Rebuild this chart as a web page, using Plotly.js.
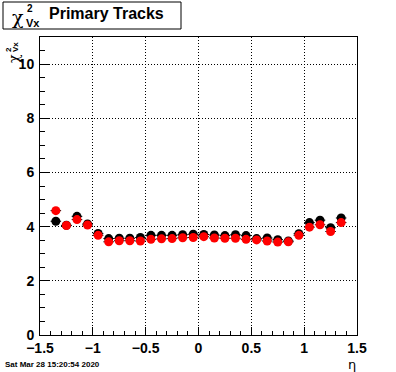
<!DOCTYPE html>
<html>
<head>
<meta charset="utf-8">
<script src="https://cdn.plot.ly/plotly-3.0.1.min.js"></script>
<style>html,body{margin:0;padding:0;background:#fff;}#chart{width:396px;height:372px;}</style>
</head>
<body>
<div id="chart"></div>
<script>
// Data
const eta = [-1.35,-1.25,-1.15,-1.05,-0.95,-0.85,-0.75,-0.65,-0.55,-0.45,-0.35,-0.25,-0.15,-0.05,
             0.05,0.15,0.25,0.35,0.45,0.55,0.65,0.75,0.85,0.95,1.05,1.15,1.25,1.35];
const chi2Black = [4.20,4.05,4.38,4.10,3.75,3.56,3.57,3.57,3.60,3.68,3.68,3.68,3.70,3.72,
                   3.71,3.69,3.67,3.70,3.67,3.56,3.58,3.52,3.47,3.74,4.15,4.24,3.96,4.32];
const chi2Red = [4.59,4.04,4.26,4.06,3.68,3.44,3.48,3.48,3.47,3.53,3.55,3.56,3.59,3.60,
                 3.63,3.58,3.57,3.57,3.53,3.51,3.47,3.43,3.44,3.68,3.98,4.07,3.82,4.15];
const halfBin = eta.map(() => 0.05);
const xTitle = 'η';
const titleMain = 'Primary Tracks';
const dateText = 'Sat Mar 28 15:20:54 2020';

const W = 396, H = 372, L = 40, R = 357, T = 37, B = 335;
const px = x => (x - L) / (R - L);
const py = y => (B - y) / (B - T);
const FONT = 'Liberation Sans, Arial, sans-serif';

function ann(x, y, text, size, opts) {
  return Object.assign({
    xref: 'paper', yref: 'paper', x: px(x), y: py(y), text: text, showarrow: false,
    xanchor: 'center', yanchor: 'middle',
    font: {family: FONT, size: size, color: '#000', weight: 'bold'}
  }, opts || {});
}

const errX = {type: 'data', array: halfBin, visible: true, color: '#000', thickness: 1, width: 0};
const traces = [
  {x: eta, y: chi2Black, type: 'scatter', mode: 'markers',
   marker: {symbol: 'circle', size: 9, color: '#000'}, error_x: errX, hoverinfo: 'skip'},
  {x: eta, y: chi2Red, type: 'scatter', mode: 'markers',
   marker: {symbol: 'circle', size: 9, color: '#ff0000'}, error_x: errX, hoverinfo: 'skip'}
];

const tickFont = {family: FONT, size: 14, color: '#000', weight: 'bold'};
const layout = {
  width: W, height: H,
  margin: {l: L, r: W - R, t: T, b: H - B, pad: 0},
  paper_bgcolor: '#fff', plot_bgcolor: '#fff',
  showlegend: false,
  xaxis: {
    range: [-1.5, 1.5], tick0: -1.5, dtick: 0.5, ticks: 'inside', ticklen: 8, tickwidth: 1, tickcolor: '#000',
    minor: {dtick: 0.1, ticks: 'inside', ticklen: 4, tickcolor: '#000', showgrid: false},
    showgrid: true, gridcolor: '#000', gridwidth: 1, griddash: '1px,2px',
    showline: true, linecolor: '#000', linewidth: 1, mirror: true, zeroline: false,
    tickfont: tickFont, ticklabelstandoff: 0
  },
  yaxis: {
    range: [0, 11], tick0: 0, dtick: 2, ticks: 'inside', ticklen: 9, tickwidth: 1, tickcolor: '#000',
    minor: {dtick: 0.5, ticks: 'inside', ticklen: 5, tickcolor: '#000', showgrid: false},
    showgrid: true, gridcolor: '#000', gridwidth: 1, griddash: '1px,2px',
    showline: true, linecolor: '#000', linewidth: 1, mirror: true, zeroline: false,
    tickfont: tickFont, ticklabelstandoff: 2
  },
  shapes: [
    {type: 'rect', xref: 'paper', yref: 'paper', x0: px(3), x1: px(181), y0: py(29), y1: py(2),
     line: {color: '#000', width: 1}, fillcolor: '#fff', layer: 'above'}
  ],
  annotations: [
    ann(18, 17, 'χ', 19, {font: {family: 'DejaVu Serif, serif', size: 19, color: '#000'}}),
    ann(30, 9, '2', 10, {}),
    ann(33, 23, 'Vx', 11, {}),
    ann(106, 14, titleMain, 16, {}),
    ann(14, 59, 'χ', 14, {textangle: -90, font: {family: 'DejaVu Serif, serif', size: 14, color: '#000'}}),
    ann(8, 50, '2', 8, {textangle: -90}),
    ann(16, 47, 'Vx', 8, {textangle: -90}),
    ann(352, 364, xTitle, 13, {font: {family: 'DejaVu Sans, sans-serif', size: 13, color: '#000'}}),
    ann(3, 364, dateText, 8, {xanchor: 'left'})
  ]
};

Plotly.newPlot('chart', traces, layout, {staticPlot: true, displayModeBar: false});
</script>
</body>
</html>
